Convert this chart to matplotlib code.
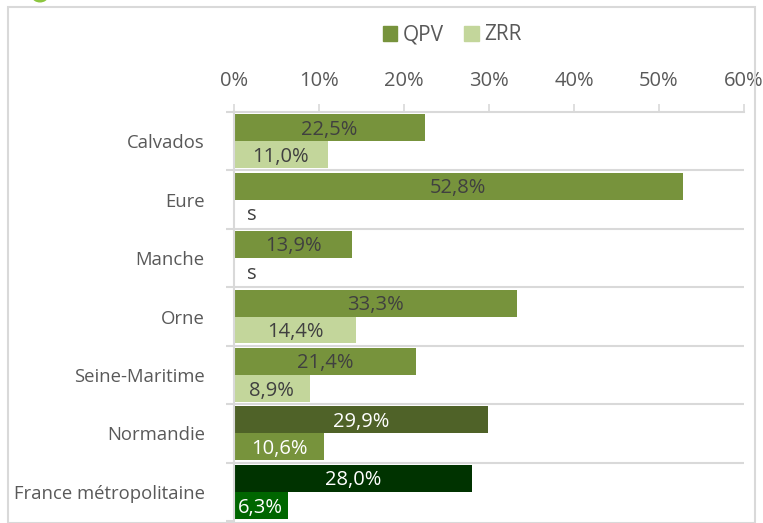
import matplotlib.pyplot as plt
from matplotlib.patches import Rectangle, Circle, Patch
import numpy as np

plt.rcParams['font.family'] = ['Open Sans', 'DejaVu Sans']

# Data
categories = ['Calvados', 'Eure', 'Manche', 'Orne', 'Seine-Maritime',
              'Normandie', 'France métropolitaine']
qpv = [22.5, 52.8, 13.9, 33.3, 21.4, 29.9, 28.0]
zrr = [11.0, None, None, 14.4, 8.9, 10.6, 6.3]
xticks = [0, 10, 20, 30, 40, 50, 60]

qpv_colors = ['#77933c'] * 5 + ['#4f6228', '#003300']
zrr_colors = ['#c3d69b'] * 5 + ['#77933c', '#006600']
label_colors = ['#404040'] * 5 + ['white', 'white']

W, H = 763, 523
fig = plt.figure(figsize=(W / 100, H / 100), dpi=100)

# outer frame of the chart area
fig.patches.append(Rectangle((8 / W, 0), (755 - 8) / W, 1 - 7 / H,
                             transform=fig.transFigure, fill=False,
                             edgecolor='#d9d9d9', linewidth=1.5))
fig.patches.append(Circle((40 / W, 1 + 3 / H), 7 / W, transform=fig.transFigure,
                          color='#8cc63f', clip_on=False))

ax = fig.add_axes([234 / W, 2 / H, (744 - 234) / W, (521 - 112) / H])

n = len(categories)
y = np.arange(n)
h = 0.46
fs = 14.5

for i in range(n):
    ax.barh(y[i] - h / 2, qpv[i], height=h, color=qpv_colors[i])
    ax.text(qpv[i] / 2, y[i] - h / 2 + 0.03, f'{qpv[i]:.1f}%'.replace('.', ','),
            ha='center', va='center', fontsize=fs, color=label_colors[i])
    if zrr[i] is None:
        ax.text(1.5, y[i] + h / 2 + 0.04, 's', ha='left', va='center',
                fontsize=fs, color='#404040')
    else:
        b2 = ax.barh(y[i] + h / 2, zrr[i], height=h, color=zrr_colors[i])[0]
        t2 = ax.text(zrr[i] / 2, y[i] + h / 2 + 0.04, f'{zrr[i]:.1f}%'.replace('.', ','),
                     ha='center', va='center', fontsize=fs, color=label_colors[i])
        t2.set_clip_path(b2)

ax.set_xlim(0, 60)
ax.set_ylim(n - 0.5, -0.5)

# group separators
for k in range(n - 1):
    ax.axhline(k + 0.5, color='#d9d9d9', linewidth=1.5)

ax.xaxis.tick_top()
ax.set_xticks(xticks)
ax.set_xticklabels([f'{v}%' for v in xticks])
ax.tick_params(axis='x', length=6, width=1.2, color='#d9d9d9', labelsize=14.5,
               labelcolor='#595959', pad=9)
ax.set_yticks(y)
ax.set_yticklabels(categories)
ax.tick_params(axis='y', which='major', length=0, labelsize=13.3,
               labelcolor='#595959', pad=21)
ax.set_yticks(np.arange(-0.5, n, 1), minor=True)
ax.tick_params(axis='y', which='minor', length=6, width=1.5, color='#d9d9d9')

for s in ['right', 'bottom']:
    ax.spines[s].set_visible(False)
for s in ['top', 'left']:
    ax.spines[s].set_color('#d9d9d9')
    ax.spines[s].set_linewidth(1.5)

# legend
handles = [Patch(color='#77933c', label='QPV'), Patch(color='#c3d69b', label='ZRR')]
fig.legend(handles=handles, loc='center', bbox_to_anchor=(452 / W, 1 - 35 / H),
           ncol=2, frameon=False, fontsize=15, handlelength=0.7, handleheight=0.7,
           handletextpad=0.25, columnspacing=1.0, labelcolor='#595959')

fig.savefig('out.png', dpi=100)
